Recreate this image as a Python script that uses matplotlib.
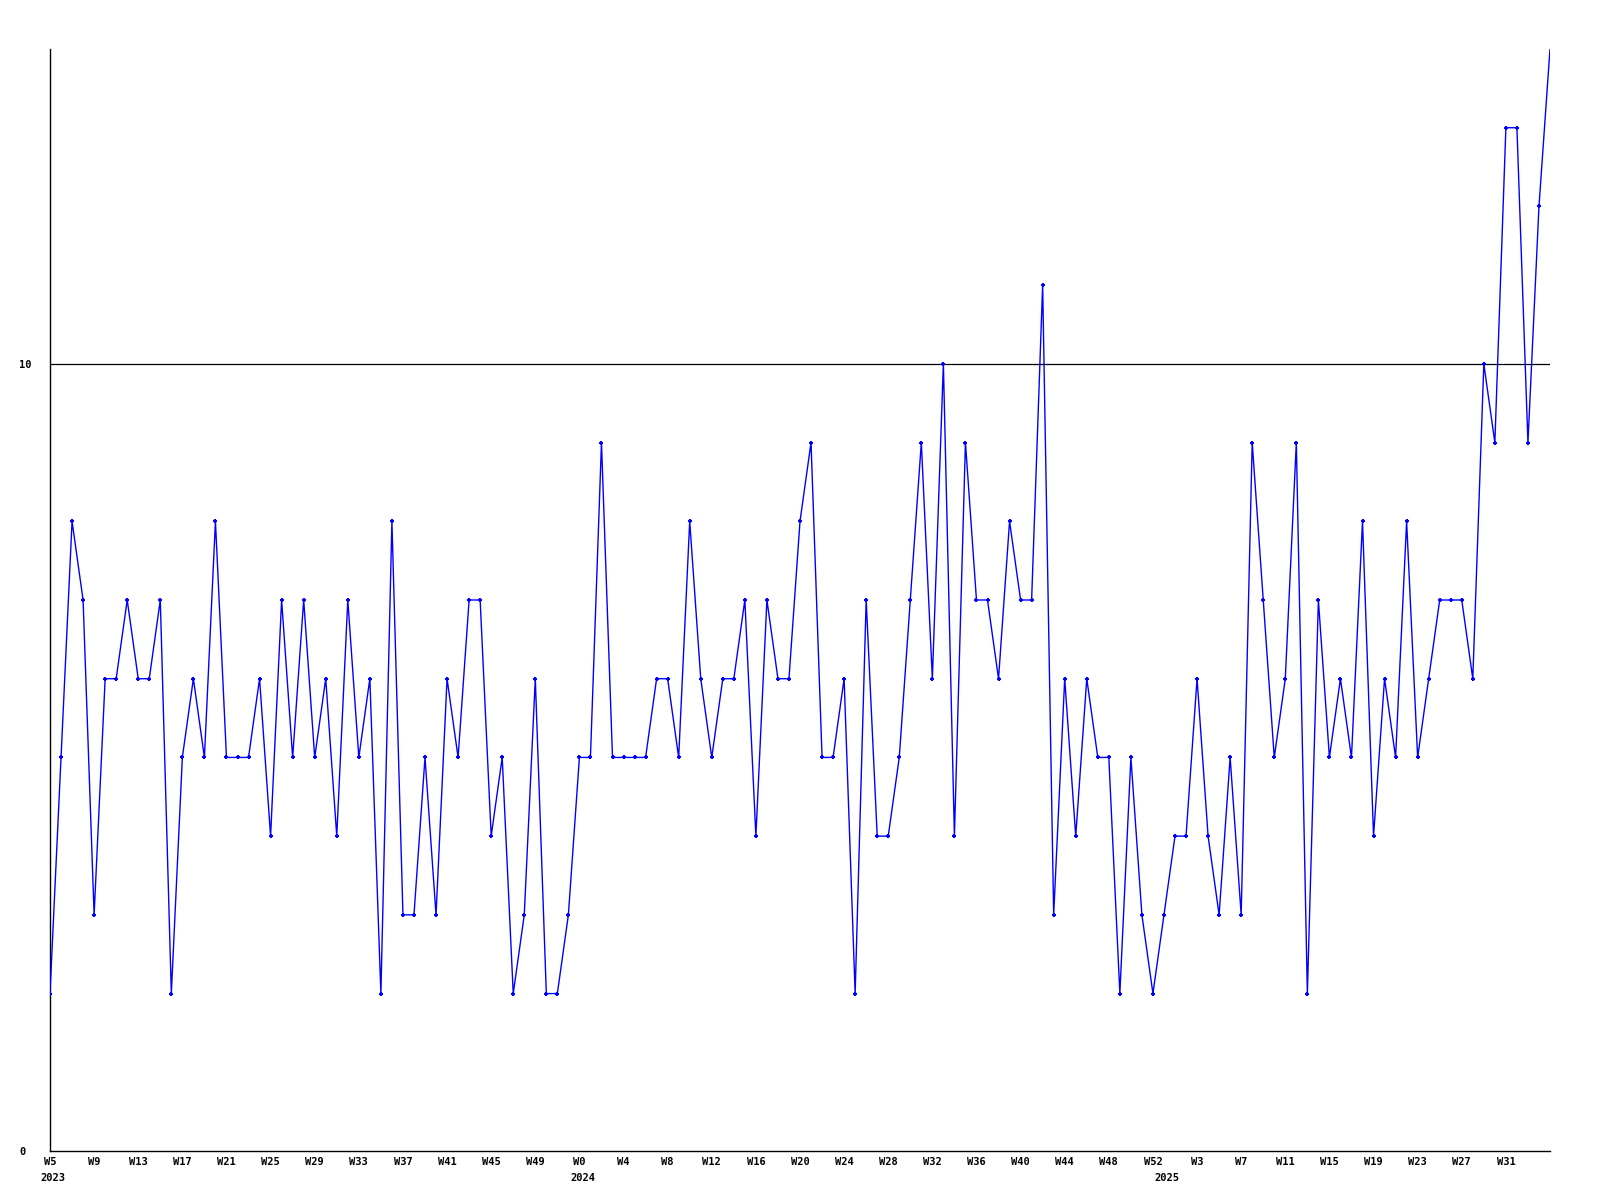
import matplotlib
matplotlib.use('Agg')
import matplotlib.pyplot as plt
import matplotlib.transforms as mtransforms
import numpy as np

LINE = '#0000FF'
TEXT = '#000000'
FONT = dict(family='DejaVu Sans Mono', fontweight='bold', fontsize=7.5)

# Weekly series, 2023 W5 .. 2025 W35
years = [2023, 2024, 2025]
first_week = [5, 0, 0]
last_week = [52, 52, 35]

values = [
    # 2023 W5-W52
    2, 5, 8, 7, 3, 6, 6, 7, 6, 6, 7, 2, 5, 6, 5, 8, 5, 5, 5, 6,
    4, 7, 5, 7, 5, 6, 4, 7, 5, 6, 2, 8, 3, 3, 5, 3, 6, 5, 7, 7,
    4, 5, 2, 3, 6, 2, 2, 3,
    # 2024 W0-W52
    5, 5, 9, 5, 5, 5, 5, 6, 6, 5, 8, 6, 5, 6, 6, 7, 4, 7, 6, 6,
    8, 9, 5, 5, 6, 2, 7, 4, 4, 5, 7, 9, 6, 10, 4, 9, 7, 7, 6, 8,
    7, 7, 11, 3, 6, 4, 6, 5, 5, 2, 5, 3, 2,
    # 2025 W0-W35
    3, 4, 4, 6, 4, 3, 5, 3, 9, 7, 5, 6, 9, 2, 7, 5, 6, 5, 8, 4,
    6, 5, 8, 5, 6, 7, 7, 7, 6, 10, 9, 13, 13, 9, 12, 14,
]

yticks = [0, 10]

# week labels for every point
week_labels = []
year_start = []
for yr, w0, w1 in zip(years, first_week, last_week):
    year_start.append(len(week_labels))
    week_labels += ['W%d' % w for w in range(w0, w1 + 1)]

x = np.arange(len(values))

fig = plt.figure(figsize=(16, 12), dpi=100, facecolor='white')
ax = fig.add_axes([50 / 1600, 1 - 1151 / 1200, 1500 / 1600, 1102 / 1200])

ax.plot(x, values, color=LINE, linewidth=1.0, zorder=3)
# point markers (the last one sits on the top edge and is not drawn)
ax.plot(x[:-1], values[:-1], linestyle='none', color=LINE, marker='+',
        markersize=3.5, markeredgewidth=1.5, zorder=4)

ax.axhline(10, color=TEXT, linewidth=0.9, zorder=2)

ax.set_xlim(0, len(values) - 1)
ax.set_ylim(0, 14)

tick_idx = list(range(0, len(values) - 3, 4))
ax.set_xticks(tick_idx)
ax.set_xticklabels([week_labels[i] for i in tick_idx], **FONT)
ax.set_yticks(yticks)
ax.set_yticklabels([str(v) for v in yticks], **FONT)
for lab in ax.get_yticklabels():
    lab.set_horizontalalignment('left')

ax.tick_params(axis='x', length=0, pad=4.5)
ax.tick_params(axis='y', length=0, pad=22)

# year labels under the first week of each year
trans = mtransforms.blended_transform_factory(ax.transData, ax.transAxes)
for yr, i in zip(years, year_start):
    ax.text(i + 0.3, -0.0245, str(yr), transform=trans, ha='center', va='center',
            color=TEXT, **FONT)

for side in ['top', 'right']:
    ax.spines[side].set_visible(False)
for side in ['left', 'bottom']:
    ax.spines[side].set_linewidth(1.0)
    ax.spines[side].set_color(TEXT)

plt.savefig('out.png', dpi=100, facecolor='white')
